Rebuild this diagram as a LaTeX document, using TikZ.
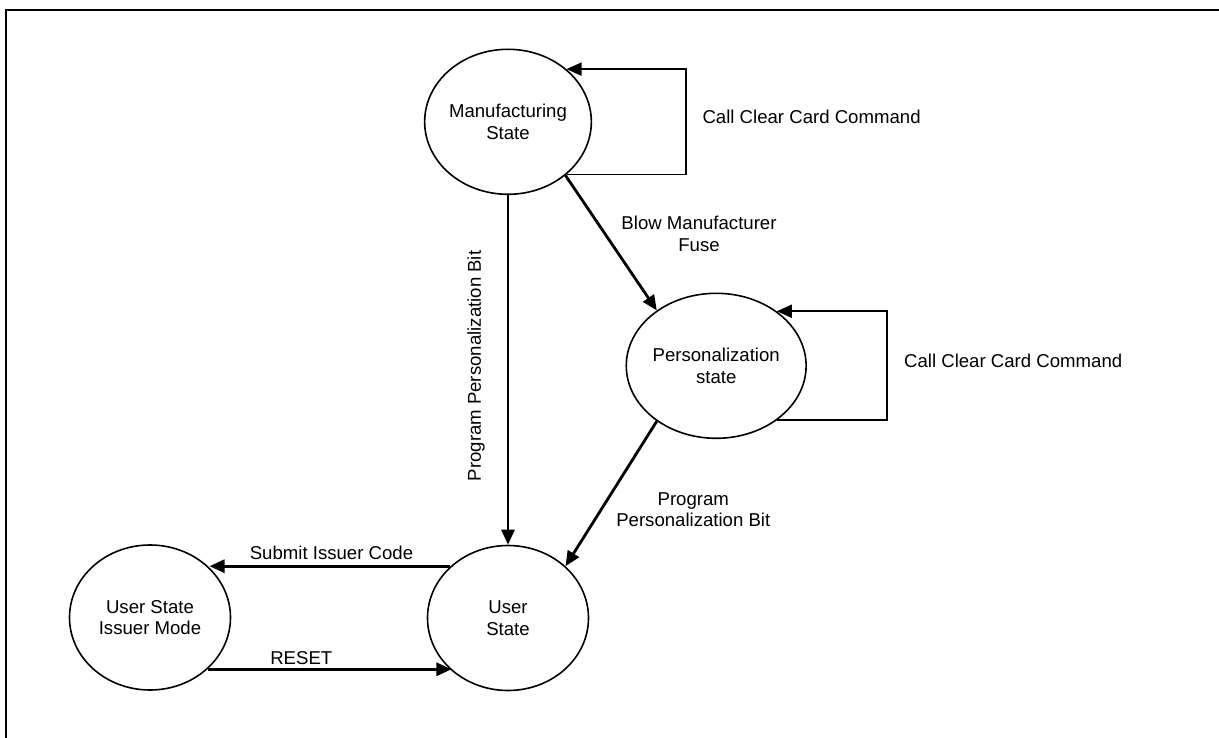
\documentclass[tikz,border=0pt]{standalone}
\usepackage{fontspec}
\setmainfont{Liberation Sans}
\usetikzlibrary{arrows.meta,shapes.geometric}
\newcommand\dfont{\fontsize{18.6}{21.5}\selectfont}
\begin{document}
\begin{tikzpicture}[x=1pt,y=-1pt,
  state/.style={draw, ellipse, line width=1.6pt, minimum width=161pt, minimum height=145pt, inner sep=0pt, align=center, font=\dfont},
  arr/.style={line width=2.8pt, -{Triangle[length=15pt,width=13pt]}},
  looparr/.style={line width=1.8pt, -{Triangle[length=15pt,width=13pt]}},
  lbl/.style={font=\dfont, align=center, inner sep=0pt}]
\useasboundingbox (0,0) rectangle (1219,738);
\draw[line width=2.5pt] (6,740) -- (6,10) -- (1221,10);

\node[state] (M) at (508,121.8) {Manufacturing\\State};
\node[state] (P) at (716.2,365.8) {Personalization\\state};
\node[state] (U) at (508,618) {User\\State};
\node[state] (I) at (150,617.5) {User State\\Issuer Mode};

\coordinate (mr) at (685.7,121.8);
\coordinate (pr) at (887.3,365.8);

\draw[looparr] (M.-42.3) -| (mr |- M.42.3) -- (M.42.3);
\draw[looparr] (P.-42.3) -| (pr |- P.42.3) -- (P.42.3);

\draw[arr] (M.-43.7) -- (P.137.5);
\draw[arr] (P.-137.3) -- (U.42.9);
\draw[arr] (M.south) -- (U.north);
\draw[arr] (U.138.5) -- (U.138.5 -| I.40.7);
\draw[arr] (I.-42.8) -- (I.-42.8 -| U.-137.7);

\node[lbl] (t1) at (811.6,116.7) {Call Clear Card Command};
\node[lbl] (t2) at (1013.2,360.8) {Call Clear Card Command};
\node[lbl] (t3) at (699,234) {Blow Manufacturer\\Fuse};
\node[lbl] (t4) at (693.3,509.5) {Program\\Personalization Bit};
\node[lbl, rotate=90] (t5) at (476,366) {Program Personalization Bit};
\node[lbl] (t6) at (331.5,553) {Submit Issuer Code};
\node[lbl] (t7) at (301.3,658.3) {RESET};
\end{tikzpicture}
\end{document}
